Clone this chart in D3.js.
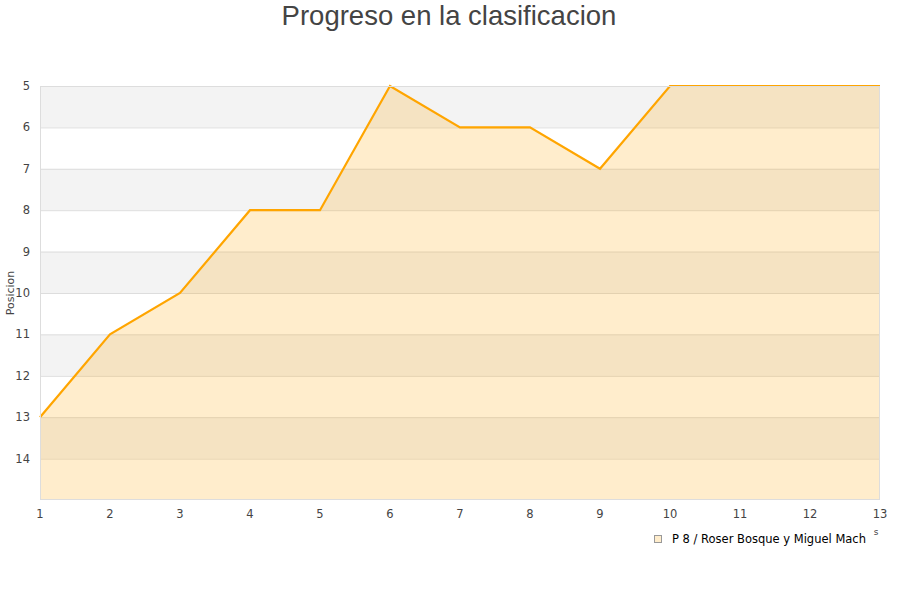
<!DOCTYPE html>
<html><head><meta charset="utf-8">
<script src="https://cdn.jsdelivr.net/npm/d3@7"></script>
<style>body{margin:0;background:#fff}</style>
</head><body>
<svg id="c" width="900" height="600"></svg>
<script>
const rounds = [1,2,3,4,5,6,7,8,9,10,11,12,13];
const positions = [13,11,10,8,8,5,6,6,7,5,5,5,5];
const yTicks = [5,6,7,8,9,10,11,12,13,14];
const seriesName = "P 8 / Roser Bosque y Miguel Mach";
const title = "Progreso en la clasificacion";

const svg = d3.select("#c");
const L=40,R=880,T=86,B=500;
const x = d3.scaleLinear().domain([1,13]).range([L,R]);
const y = d3.scaleLinear().domain([5,15]).range([T,B]);

// bands
const bands = d3.range(5,15);
svg.append("g").selectAll("rect").data(bands).join("rect")
  .attr("x",L).attr("width",R-L)
  .attr("y",d=>y(d)).attr("height",d=>y(d+1)-y(d))
  .attr("fill",(d,i)=>i%2===0?"#f3f3f3":"#ffffff");
// grid
svg.append("g").selectAll("line").data(yTicks).join("line")
  .attr("x1",L).attr("x2",R).attr("y1",d=>y(d)+0.5).attr("y2",d=>y(d)+0.5)
  .attr("stroke","#dddddd").attr("stroke-width",1);

const data = rounds.map((r,i)=>({r,p:positions[i]}));
svg.append("path").datum(data)
  .attr("d",d3.area().x(d=>x(d.r)).y0(B).y1(d=>y(d.p)))
  .attr("fill","rgba(255,165,0,0.2)");
svg.append("path").datum(data)
  .attr("d",d3.line().x(d=>x(d.r)).y(d=>y(d.p)))
  .attr("fill","none").attr("stroke","#ffa500").attr("stroke-width",2.2);

// frame
svg.append("rect").attr("x",L+0.5).attr("y",T+0.5).attr("width",R-L-1).attr("height",B-T-1)
  .attr("fill","none").attr("stroke","#dddddd");

// y axis labels
svg.append("g").selectAll("text").data(yTicks).join("text")
  .attr("x",30).attr("y",d=>y(d)+4).attr("text-anchor","end")
  .attr("font-family","DejaVu Sans").attr("font-size",11.5).attr("fill","#444")
  .text(d=>d);
// x axis labels
svg.append("g").selectAll("text").data(rounds).join("text")
  .attr("x",d=>x(d)).attr("y",518).attr("text-anchor","middle")
  .attr("font-family","DejaVu Sans").attr("font-size",11.5).attr("fill","#444")
  .text(d=>d);

svg.append("text").attr("transform","translate(14,293) rotate(-90)")
  .attr("text-anchor","middle").attr("font-family","DejaVu Sans").attr("font-size",11).attr("fill","#444")
  .text("Posicion");

svg.append("text").attr("x",449).attr("y",25).attr("text-anchor","middle")
  .attr("font-family","Liberation Sans").attr("font-size",27.5).attr("fill","#444")
  .text(title);

svg.append("text").attr("x",876).attr("y",535).attr("text-anchor","middle")
  .attr("font-family","DejaVu Sans").attr("font-size",9).attr("fill","#444").text("s");

// legend
svg.append("rect").attr("x",654.5).attr("y",535.5).attr("width",7).attr("height",7)
  .attr("fill","#ffedcc").attr("stroke","#999");
svg.append("text").attr("x",672).attr("y",543)
  .attr("font-family","DejaVu Sans").attr("font-size",11.5).attr("fill","#000")
  .text(seriesName);
</script>
</body></html>
